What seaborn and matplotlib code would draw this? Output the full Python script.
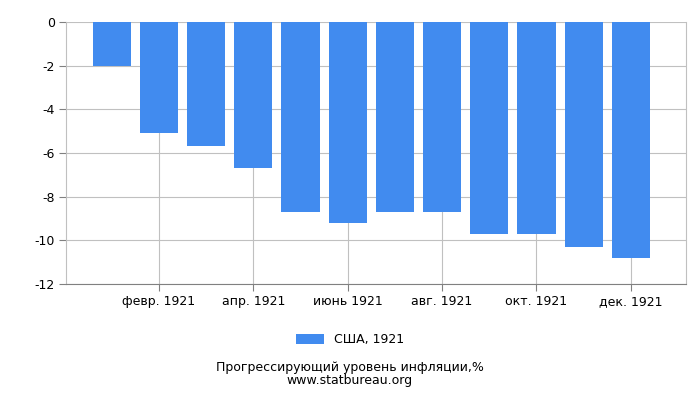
import numpy as np
import pandas as pd
import matplotlib
matplotlib.use("Agg")
import matplotlib.pyplot as plt
import seaborn as sns

# Data
months = ["янв. 1921", "февр. 1921", "март 1921", "апр. 1921", "май 1921", "июнь 1921",
          "июль 1921", "авг. 1921", "сент. 1921", "окт. 1921", "нояб. 1921", "дек. 1921"]
values = [-2.0, -5.1, -5.7, -6.7, -8.7, -9.2, -8.7, -8.7, -9.7, -9.7, -10.3, -10.8]
series_name = "США, 1921"
y_ticks = [0, -2, -4, -6, -8, -10, -12]

df = pd.DataFrame({"month": months, "value": values, "series": series_name})

sns.set_style("white")
plt.rcParams['font.family'] = ['DejaVu Sans']
plt.rcParams['text.color'] = 'black'
plt.rcParams['xtick.color'] = 'black'
plt.rcParams['ytick.color'] = 'black'

fig = plt.figure(figsize=(7, 4), dpi=100)
ax = fig.add_axes([0.094, 0.29, 0.886, 0.655])

sns.barplot(data=df, x="month", y="value", hue="series", palette=["#418bef"],
            width=0.81, saturation=1, linewidth=0, ax=ax, zorder=3, legend=True)

ax.set_ylim(-12, 0)
ax.set_xlim(-0.975, 12.17)
ax.set_yticks(y_ticks)
ax.set_yticklabels([str(t) for t in y_ticks], fontsize=9)
shown = list(range(1, 12, 2))
ax.set_xticks(shown)
ax.set_xticklabels([months[i] for i in shown], fontsize=9)
ax.set_xlabel("")
ax.set_ylabel("")

ax.grid(True, axis="both", color="#c0c0c0", linewidth=0.8, zorder=0)
ax.set_axisbelow(True)
for side in ["left", "bottom", "right"]:
    ax.spines[side].set_visible(True)
    ax.spines[side].set_color("#c0c0c0")
ax.spines["bottom"].set_color("#808080")
ax.spines["top"].set_visible(False)
ax.tick_params(axis="both", length=5, color="#808080", direction="out",
               bottom=True, left=True, labelsize=9, pad=3,
               labelcolor="black")

leg = ax.legend(loc="center", frameon=False, fontsize=9,
                handlelength=2.2, handleheight=0.9)
leg.set_bbox_to_anchor((0.5, 0.15), transform=fig.transFigure)

fig.text(0.5, 0.073, "Прогрессирующий уровень инфляции,%", ha="center", fontsize=9)
fig.text(0.5, 0.040, "www.statbureau.org", ha="center", fontsize=9)

fig.savefig("out.png", dpi=100)
